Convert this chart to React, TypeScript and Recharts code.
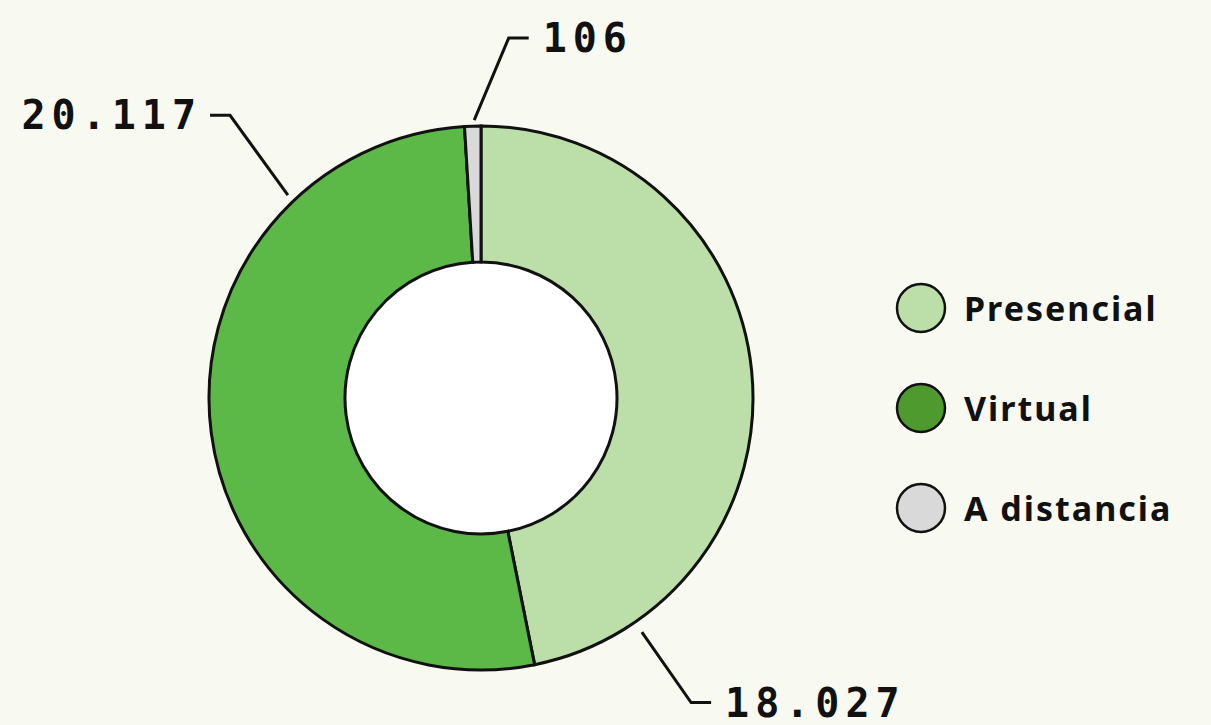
import { PieChart, Pie, Cell, Legend } from 'recharts';

const modalities = ['Presencial', 'Virtual', 'A distancia'];
const students = [18027, 20117, 106];
const sliceColors = ['#bcdfa9', '#5cb947', '#d9d9d9'];
const legendColors = ['#bcdfa9', '#4f9a2f', '#d9d9d9'];

// leader lines: angle/radius of start and elbow, then horizontal direction
const guides = [
  { a0: -55.5, r0: 284, a1: -55.4, r1: 370, dir: 1 },
  { a0: 133.6, r0: 280, a1: 131.6, r1: 378, dir: -1 },
  { a0: 91.4, r0: 278, a1: 85.6, r1: 361, dir: 1 },
];

const data = modalities.map((name, i) => ({ name, value: students[i] }));

const RAD = Math.PI / 180;
const fmt = (v: number) => String(v).replace(/\B(?=(\d{3})+(?!\d))/g, '.');

const renderLabel = (props: any) => {
  const { cx, cy, index, value } = props;
  const g = guides[index];
  const x0 = cx + g.r0 * Math.cos(-g.a0 * RAD);
  const y0 = cy + g.r0 * Math.sin(-g.a0 * RAD);
  const x1 = cx + g.r1 * Math.cos(-g.a1 * RAD);
  const y1 = cy + g.r1 * Math.sin(-g.a1 * RAD);
  const x2 = x1 + g.dir * 20;
  // letter spacing trails the last glyph, so right-aligned text sits a bit closer
  const tx = g.dir > 0 ? x2 + 14 : x2 - 8;
  return (
    <g key={`lbl-${index}`}>
      <polyline points={`${x0},${y0} ${x1},${y1} ${x2},${y1}`} fill="none" stroke="#111" strokeWidth={3} />
      <text
        x={tx}
        y={y1}
        textAnchor={g.dir > 0 ? 'start' : 'end'}
        dominantBaseline="central"
        fill="#111"
        fontFamily="'DejaVu Sans Mono', monospace"
        fontWeight={700}
        fontSize={40}
        letterSpacing={6}
      >
        {fmt(value)}
      </text>
    </g>
  );
};

const LegendBox = () => (
  <div style={{ display: 'flex', flexDirection: 'column' }}>
    {modalities.map((m, i) => (
      <div key={m} style={{ display: 'flex', alignItems: 'center', height: 100 }}>
        <svg width={52} height={52}>
          <circle cx={26} cy={26} r={24} fill={legendColors[i]} stroke="#111" strokeWidth={2.5} />
        </svg>
        <span
          style={{
            marginLeft: 17,
            fontFamily: "'Noto Sans', sans-serif",
            fontWeight: 700,
            fontSize: 34,
            letterSpacing: 2,
            color: '#111',
          }}
        >
          {m}
        </span>
      </div>
    ))}
  </div>
);

export default function App() {
  return (
    <div style={{ width: 1211, height: 725, background: '#f8f9f0', position: 'relative' }}>
      <style>{'body{margin:0}'}</style>
      <PieChart width={1211} height={725} margin={{ top: 0, right: 0, bottom: 0, left: 0 }}>
        <Pie
          data={[{ value: 1 }]}
          dataKey="value"
          cx={481}
          cy={398}
          outerRadius={136}
          fill="#ffffff"
          stroke="none"
          isAnimationActive={false}
        />
        <Pie
          data={data}
          dataKey="value"
          nameKey="name"
          cx={481}
          cy={398}
          innerRadius={136}
          outerRadius={272}
          startAngle={90}
          endAngle={-270}
          minAngle={2.5}
          stroke="#111"
          strokeWidth={3}
          label={renderLabel}
          labelLine={false}
          isAnimationActive={false}
        >
          {data.map((d, i) => (
            <Cell key={d.name} fill={sliceColors[i]} />
          ))}
        </Pie>
        <Legend
          content={<LegendBox />}
          wrapperStyle={{ position: 'absolute', left: 895, top: 258, width: 316 }}
        />
      </PieChart>
    </div>
  );
}
